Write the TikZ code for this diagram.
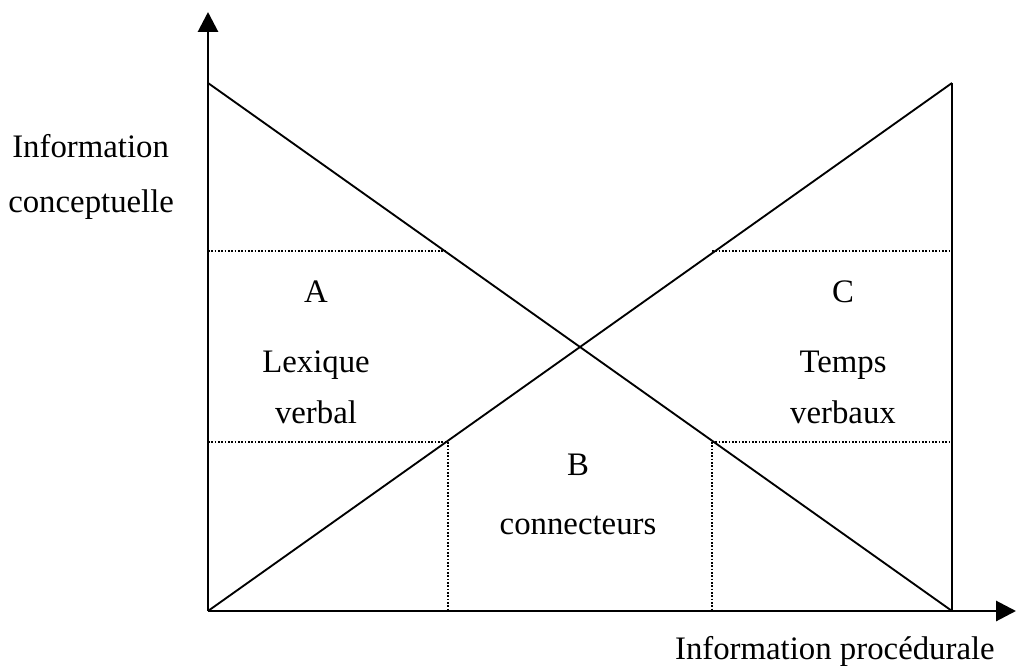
\documentclass[tikz,border=0pt]{standalone}
\usepackage{fontspec}
\setmainfont{Liberation Serif}
\usetikzlibrary{arrows.meta}
\begin{document}
\begin{tikzpicture}[x=0.75pt,y=-0.75pt,
  lbl/.style={font=\fontsize{24.6}{30}\selectfont, inner sep=0pt, anchor=base},
  lblL/.style={font=\fontsize{24.6}{30}\selectfont, inner sep=0pt, anchor=base west},
  lblR/.style={font=\fontsize{24.6}{30}\selectfont, inner sep=0pt, anchor=base east},
  axis/.style={line width=2.2pt, -{Triangle[length=15pt,width=15pt]}},
  thin/.style={line width=1pt},
  diag/.style={line width=1.4pt},
  dots/.style={line width=1.2pt, dash pattern=on 1.2pt off 1.3pt}]
\useasboundingbox (0,0) rectangle (1016,666);
% key points
\coordinate (O) at (208,611);
\coordinate (TL) at (208,83);
\coordinate (TR) at (952,83);
\coordinate (BR) at (952,611);
\coordinate (YS) at (208,106);
\coordinate (YT) at (208,12);
\coordinate (XT) at (1016,611);
% dotted helper points
\coordinate (h1a) at (208,251);
\coordinate (h1b) at (445,251);
\coordinate (h1c) at (712,251);
\coordinate (h1d) at (952,251);
\coordinate (h2a) at (208,442);
\coordinate (h2b) at (448,442);
\coordinate (h2c) at (712,442);
\coordinate (h2d) at (952,442);
\coordinate (v1) at (448,611);
\coordinate (v2) at (712,611);
% frame and diagonals
\draw[thin] (O) -- (TL);
\draw[line width=2pt] (BR) -- (TR);
\draw[diag] (TL) -- (BR);
\draw[diag] (O) -- (TR);
% dotted lines
\draw[dots] (h1a) -- (h1b);
\draw[dots] (h1c) -- (h1d);
\draw[dots] (h2a) -- (h2b);
\draw[dots] (h2c) -- (h2d);
\draw[dots] (h2b) -- (v1);
\draw[dots] (h2c) -- (v2);
% axes
\draw[axis] (YS) -- (YT);
\draw[axis] (O) -- (XT);
% labels
\node[lblL] (ic1) at (12,158) {Information};
\node[lblL] (ic2) at (8,213) {conceptuelle};
\node[lbl] (A) at (316,303) {A};
\node[lbl] (lex) at (316,372) {Lexique};
\node[lbl] (vb) at (316,423) {verbal};
\node[lbl] (C) at (843,303) {C};
\node[lbl] (tp) at (843,372) {Temps};
\node[lbl] (vx) at (843,423) {verbaux};
\node[lbl] (B) at (578,475) {B};
\node[lbl] (cn) at (578,534) {connecteurs};
\node[lblR] (ip) at (995,659) {Information procédurale};
\end{tikzpicture}
\end{document}
